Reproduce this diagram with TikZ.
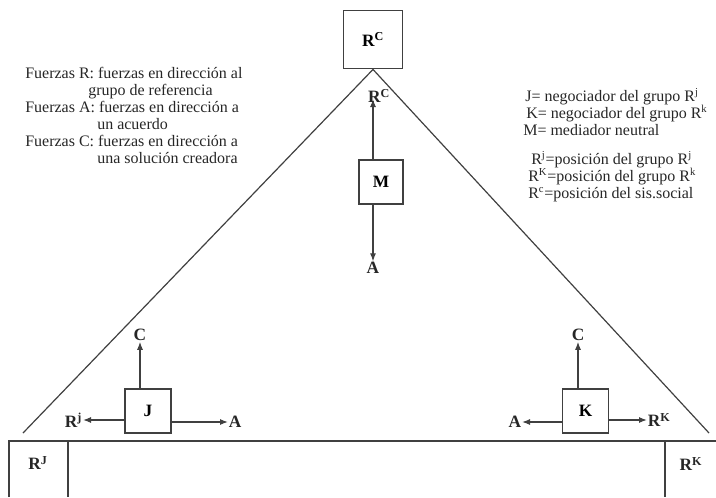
\documentclass[tikz,border=0pt]{standalone}
\usepackage{fontspec}
\setmainfont{Liberation Serif}
\usetikzlibrary{arrows.meta,positioning}

\tikzset{
  caja/.style={draw=black!75, line width=0.9pt, inner sep=0pt, font=\fontsize{13}{15}\selectfont\bfseries},
  etiq/.style={inner sep=0.5pt, text=black!85, font=\fontsize{13}{15}\selectfont\bfseries},
  nota/.style={anchor=base west, inner sep=0pt, text=black!85, font=\fontsize{12}{14}\selectfont},
  linea/.style={draw=black!75, line width=0.9pt},
}

\begin{document}
\begin{tikzpicture}[>={Latex[length=6pt,width=4.5pt]}, x=0.75pt, y=-0.75pt]
		\useasboundingbox (0,0) rectangle (716,497);
		
		% Posicion del sistema social
		\node[caja, minimum size=44pt] (RC) at (373,39.5) {R\textsuperscript{C}};
		
		% Triangulo
		\coordinate (izq) at (23,433);
		\coordinate (der) at (709,433);
		\draw[linea] (izq) -- (RC.south) -- (der);
		
		% Mediador
		\node[caja, minimum size=33pt] (M) at (381,182) {M};
		\coordinate (puntaM) at (373,99);
		\draw[linea,->] (M.north -| RC.south) -- (puntaM);
		\node[etiq] (rcM) at (379,96) {R\textsuperscript{C}};
		\node[etiq] (aM) at (373,268) {A};
		\draw[linea,->] (M.south -| RC.south) -- (aM);
		
		% Negociador J
		\node[caja, minimum width=34.5pt, minimum height=33pt] (J) at (148,411) {J};
		\node[etiq] (cJ) at (140,335) {C};
		\node[etiq, anchor=east] (rJ) at (83,420) {R\textsuperscript{j}};
		\node[etiq, anchor=west] (aJ) at (228,422) {A};
		\draw[linea,->] (J.north -| cJ) -- (cJ);
		\draw[linea,->] (J.west |- rJ.east) -- (rJ.east);
		\draw[linea,->] (J.east |- aJ.west) -- (aJ.west);
		
		% Negociador K
		\node[caja, minimum width=34pt, minimum height=33pt] (K) at (585.5,411) {K};
		\node[etiq] (cK) at (578,335) {C};
		\node[etiq, anchor=east] (aK) at (522,422) {A};
		\node[etiq, anchor=west] (rK) at (647,420) {R\textsuperscript{K}};
		\draw[linea,->] (K.north -| cK) -- (cK);
		\draw[linea,->] (K.west |- aK.east) -- (aK.east);
		\draw[linea,->] (K.east |- rK.west) -- (rK.west);
		
		% Posiciones de los grupos
		\draw[linea] (9,497) -- (9,441) -- (716,441);
		\draw[linea] (68,441) -- (68,497);
		\draw[linea] (665,441) -- (665,497);
		\node[etiq] (RJ) at (38,463) {R\textsuperscript{J}};
		\node[etiq] (RK) at (691,464) {R\textsuperscript{K}};
		
		% Fuerzas
		\node[nota] (f1) at (25,78) {Fuerzas R: fuerzas en dirección al};
		\node[nota] (f2) at (88,95) {grupo de referencia};
		\node[nota] (f3) at (25,112) {Fuerzas A: fuerzas en dirección a};
		\node[nota] (f4) at (97,129) {un acuerdo};
		\node[nota] (f5) at (25,146) {Fuerzas C: fuerzas en dirección a};
		\node[nota] (f6) at (97,163) {una solución creadora};
		
		% Leyenda
		\node[nota] (l1) at (525,101) {J= negociador del grupo R\textsuperscript{j}};
		\node[nota] (l2) at (526,118) {K= negociador del grupo R\textsuperscript{k}};
		\node[nota] (l3) at (523,135) {M= mediador neutral};
		\node[nota] (l4) at (531,164) {R\textsuperscript{j}=posición del grupo R\textsuperscript{j}};
		\node[nota] (l5) at (528,181) {R\textsuperscript{K}=posición del grupo R\textsuperscript{k}};
		\node[nota] (l6) at (528,198) {R\textsuperscript{c}=posición del sis.social};
		
	\end{tikzpicture}
\end{document}
